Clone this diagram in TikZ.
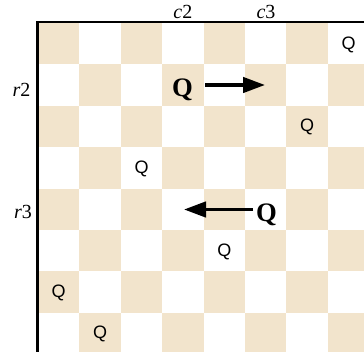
\documentclass[tikz,border=0pt]{standalone}
\usepackage{fontspec}
\setmainfont{Liberation Serif}
\setsansfont{Liberation Sans}
\usetikzlibrary{arrows.meta}
\definecolor{boardtan}{RGB}{242,228,204}
\tikzset{
  tan/.style={fill=boardtan, draw=none},
  smallq/.style={font=\sffamily\fontsize{13.5}{13.5}\selectfont, inner sep=0pt},
  bigq/.style={font=\bfseries\fontsize{20}{20}\selectfont, inner sep=0pt},
  lbl/.style={font=\fontsize{15}{15}\selectfont, inner sep=0pt},
  border/.style={line width=2.2pt, line cap=rect},
  arr/.style={line width=2.6pt, -{Triangle[length=16.5pt,width=11.5pt]}}
}
\begin{document}
\begin{tikzpicture}[x=0.75pt,y=-0.75pt]
\useasboundingbox (0,0) rectangle (364,352);
\begin{scope}
\clip (0,0) rectangle (364,352);
\foreach \r in {0,...,7}{
  \foreach \c in {0,...,7}{
    \pgfmathtruncatemacro{\s}{mod(\r+\c,2)}
    \ifnum\s=0
      \fill[tan] ({38+41.4*\c},{23+41.4*\r}) rectangle ++(41.4,41.4);
    \fi
  }
}
\draw[border] (37.5,352) -- (37.5,22) -- (364,22);
\end{scope}
% small queens
\node[smallq] (q1) at (348.5,44.5) {Q};
\node[smallq] (q2) at (307.1,127.3) {Q};
\node[smallq] (q3) at (141.5,168.7) {Q};
\node[smallq] (q4) at (224.3,251.5) {Q};
\node[smallq] (q5) at (58.7,292.9) {Q};
\node[smallq] (q6) at (100.1,334.3) {Q};
% big queens
\node[bigq] (qa) at (182.4,90) {Q};
\node[bigq] (qb) at (266.5,215) {Q};
% labels
\node[lbl, anchor=base] (c2) at (182.9,18.5) {\textit{c}2};
\node[lbl, anchor=base] (c3) at (266,18.5) {\textit{c}3};
\node[lbl, anchor=base] (r2) at (21.5,97) {\textit{r}2};
\node[lbl, anchor=base] (r3) at (23,219) {\textit{r}3};
% arrows
\coordinate (a1s) at (205,85);
\coordinate (a1e) at (265,85);
\coordinate (a2s) at (253,209.5);
\coordinate (a2e) at (184,209.5);
\draw[arr] (a1s) -- (a1e);
\draw[arr] (a2s) -- (a2e);
\end{tikzpicture}
\end{document}
